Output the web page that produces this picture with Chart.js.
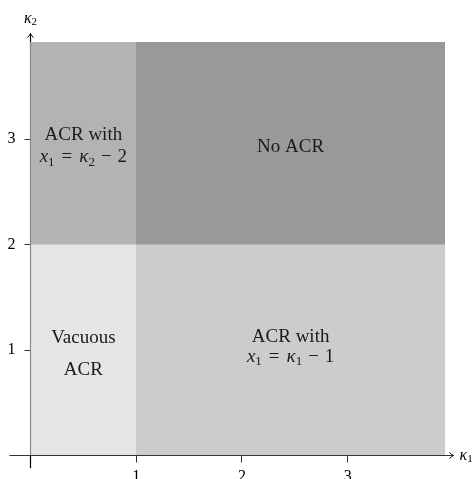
<!DOCTYPE html>
<html>
<head>
<meta charset="utf-8">
<script src="https://cdn.jsdelivr.net/npm/chart.js@4/dist/chart.umd.min.js"></script>
<style>
html,body{margin:0;padding:0;background:#fff;}
canvas{display:block;}
</style>
</head>
<body>
<canvas id="c" width="474" height="479"></canvas>
<script>
// ---- data ----
const axisMax = 3.92;
const regionNames = ['Vacuous ACR', 'ACR with x1 = κ1 − 1', 'ACR with x1 = κ2 − 2', 'No ACR'];
const regionX0 = [0, 1, 0, 1];
const regionX1 = [1, axisMax, 1, axisMax];
const regionY0 = [0, 0, 2, 2];
const regionY1 = [2, 2, axisMax, axisMax];
const xTickLabels = ['', '1', '2', '3'];
const yTickLabels = ['', '1', '2', '3'];

// ---- styles ----
const regionColors = ['#e5e5e5', '#cccccc', '#b3b3b3', '#999999'];
const SERIF = '"Liberation Serif", "DejaVu Serif", serif';
const MAIN = 19, SUB = 13;
// label lines per region: [parts, pixelOffsetY from region centre]
const eqKappa1 = [{t:'x',it:1},{t:'1',sub:1},{gap:7},{t:'='},{gap:7},{t:'κ',it:1},{t:'1',sub:1},{gap:6},{t:'−'},{gap:6},{t:'1'}];
const eqKappa2 = [{t:'x',it:1},{t:'1',sub:1},{gap:7},{t:'='},{gap:7},{t:'κ',it:1},{t:'2',sub:1},{gap:6},{t:'−'},{gap:6},{t:'2'}];
const regionLabelLines = [
  [[[{t:'Vacuous'}], -12], [[{t:'ACR'}], 20]],
  [[[{t:'ACR with'}], -13], [[...eqKappa1], 7]],
  [[[{t:'ACR with'}], -8], [[...eqKappa2], 14]],
  [[[{t:'No ACR'}], 4]]
];

function setFont(ctx, p, main, sub){
  ctx.font = (p.it ? 'italic ' : '') + (p.sub ? sub : main) + 'px ' + SERIF;
}
function mathWidth(ctx, parts, main, sub){
  let w = 0;
  for (const p of parts){
    if (p.gap){ w += p.gap; continue; }
    setFont(ctx, p, main, sub);
    w += ctx.measureText(p.t).width;
  }
  return w;
}
function drawMath(ctx, parts, cx, cy, main, sub){
  main = main || MAIN; sub = sub || SUB;
  const w = mathWidth(ctx, parts, main, sub);
  let x = cx - w/2;
  ctx.textAlign = 'left';
  ctx.textBaseline = 'middle';
  for (const p of parts){
    if (p.gap){ x += p.gap; continue; }
    setFont(ctx, p, main, sub);
    ctx.fillText(p.t, x, cy + (p.sub ? Math.round(main * 0.27) : 0));
    x += ctx.measureText(p.t).width;
  }
}

const datasets = regionNames.map((name, i) => ({
  label: name,
  data: [{x: regionX0[i], y: regionY1[i]}, {x: regionX1[i], y: regionY1[i]}],
  fill: {value: regionY0[i]},
  backgroundColor: regionColors[i],
  borderWidth: 0,
  borderColor: 'rgba(0,0,0,0)',
  pointRadius: 0,
  tension: 0
}));

// underlay to hide anti-aliasing seams between adjacent fills
const underlay = {
  id: 'underlay',
  beforeDatasetsDraw(chart){
    const ctx = chart.ctx, xs = chart.scales.x, ys = chart.scales.y;
    ctx.save();
    regionNames.forEach((n, i) => {
      const l = xs.getPixelForValue(regionX0[i]), r = xs.getPixelForValue(regionX1[i]);
      const t = ys.getPixelForValue(regionY1[i]), b = ys.getPixelForValue(regionY0[i]);
      ctx.fillStyle = regionColors[i];
      const el = regionX0[i] > 0 ? 0.6 : 0, er = regionX1[i] < axisMax ? 0.6 : 0;
      const et = regionY1[i] < axisMax ? 0.6 : 0, eb = regionY0[i] > 0 ? 0.6 : 0;
      ctx.fillRect(l - el, t - et, r - l + el + er, b - t + et + eb);
    });
    ctx.restore();
  }
};

const overlay = {
  id: 'overlay',
  afterDatasetsDraw(chart){
    const ctx = chart.ctx;
    const xs = chart.scales.x, ys = chart.scales.y;
    ctx.save();
    // region labels
    ctx.fillStyle = '#1a1a1a';
    regionNames.forEach((n, i) => {
      const cx = xs.getPixelForValue((regionX0[i] + regionX1[i]) / 2);
      const cy = ys.getPixelForValue((regionY0[i] + regionY1[i]) / 2);
      for (const [parts, off] of regionLabelLines[i]) drawMath(ctx, parts, cx, cy + off);
    });
    // y axis line inside plot (gray), outside (black)
    const x0 = xs.getPixelForValue(0), y0 = ys.getPixelForValue(0);
    const yTop = ys.getPixelForValue(axisMax);
    ctx.lineWidth = 1.2;
    ctx.strokeStyle = '#8a8a8a';
    ctx.beginPath(); ctx.moveTo(x0, y0); ctx.lineTo(x0, yTop); ctx.stroke();
    ctx.strokeStyle = '#000';
    ctx.beginPath(); ctx.moveTo(x0, ys.getPixelForValue(-0.12)); ctx.lineTo(x0, y0); ctx.stroke();
    ctx.beginPath(); ctx.moveTo(x0, yTop); ctx.lineTo(x0, ys.getPixelForValue(4.0)); ctx.stroke();
    // x axis line
    const xEnd = xs.getPixelForValue(4.0);
    ctx.strokeStyle = '#333';
    ctx.beginPath(); ctx.moveTo(xs.getPixelForValue(-0.2), y0); ctx.lineTo(xEnd, y0); ctx.stroke();
    // arrowheads
    ctx.strokeStyle = '#000';
    const yEnd = ys.getPixelForValue(4.0);
    ctx.lineWidth = 1;
    ctx.beginPath();
    ctx.moveTo(x0 - 3, yEnd + 4); ctx.quadraticCurveTo(x0 - 0.5, yEnd + 1.5, x0, yEnd);
    ctx.quadraticCurveTo(x0 + 0.5, yEnd + 1.5, x0 + 3, yEnd + 4);
    ctx.stroke();
    ctx.beginPath();
    ctx.moveTo(xEnd - 4, y0 - 3); ctx.quadraticCurveTo(xEnd - 1.5, y0 - 0.5, xEnd, y0);
    ctx.quadraticCurveTo(xEnd - 1.5, y0 + 0.5, xEnd - 4, y0 + 3);
    ctx.stroke();
    // axis titles
    ctx.fillStyle = '#000';
    drawMath(ctx, [{t:'κ',it:1},{t:'2',sub:1}], x0, yEnd - 15, 16, 11);
    ctx.textAlign = 'left';
    ctx.font = 'italic 16px ' + SERIF;
    ctx.fillText('κ', xEnd + 6, y0);
    const kw = ctx.measureText('κ').width;
    ctx.font = '11px ' + SERIF;
    ctx.fillText('1', xEnd + 6 + kw, y0 + 4);
    ctx.restore();
  }
};

new Chart(document.getElementById('c'), {
  type: 'line',
  data: { datasets },
  options: {
    responsive: false,
    animation: false,
    layout: { padding: { top: 42, right: 29, left: 0, bottom: 0 } },
    plugins: { legend: { display: false }, tooltip: { enabled: false } },
    scales: {
      x: {
        type: 'linear', min: 0, max: axisMax,
        border: { display: false },
        grid: { drawOnChartArea: false, drawTicks: true, tickLength: 7, color: '#333', lineWidth: 1 },
        ticks: {
          stepSize: 1, includeBounds: false, padding: 5, color: '#000',
          font: { family: SERIF, size: 16 },
          maxRotation: 0,
          callback: (v) => xTickLabels[v] !== undefined ? xTickLabels[v] : ''
        },
        afterFit(s){ s.height = 23.5; }
      },
      y: {
        type: 'linear', min: 0, max: axisMax,
        border: { display: false },
        grid: { drawOnChartArea: false, drawTicks: true, tickLength: 6, color: '#333', lineWidth: 1 },
        ticks: {
          stepSize: 1, includeBounds: false, padding: 9, color: '#000',
          font: { family: SERIF, size: 16 },
          callback: (v) => yTickLabels[v] !== undefined ? yTickLabels[v] : ''
        },
        afterFit(s){ s.width = 30.5; }
      }
    }
  },
  plugins: [underlay, overlay]
});
</script>
</body>
</html>
